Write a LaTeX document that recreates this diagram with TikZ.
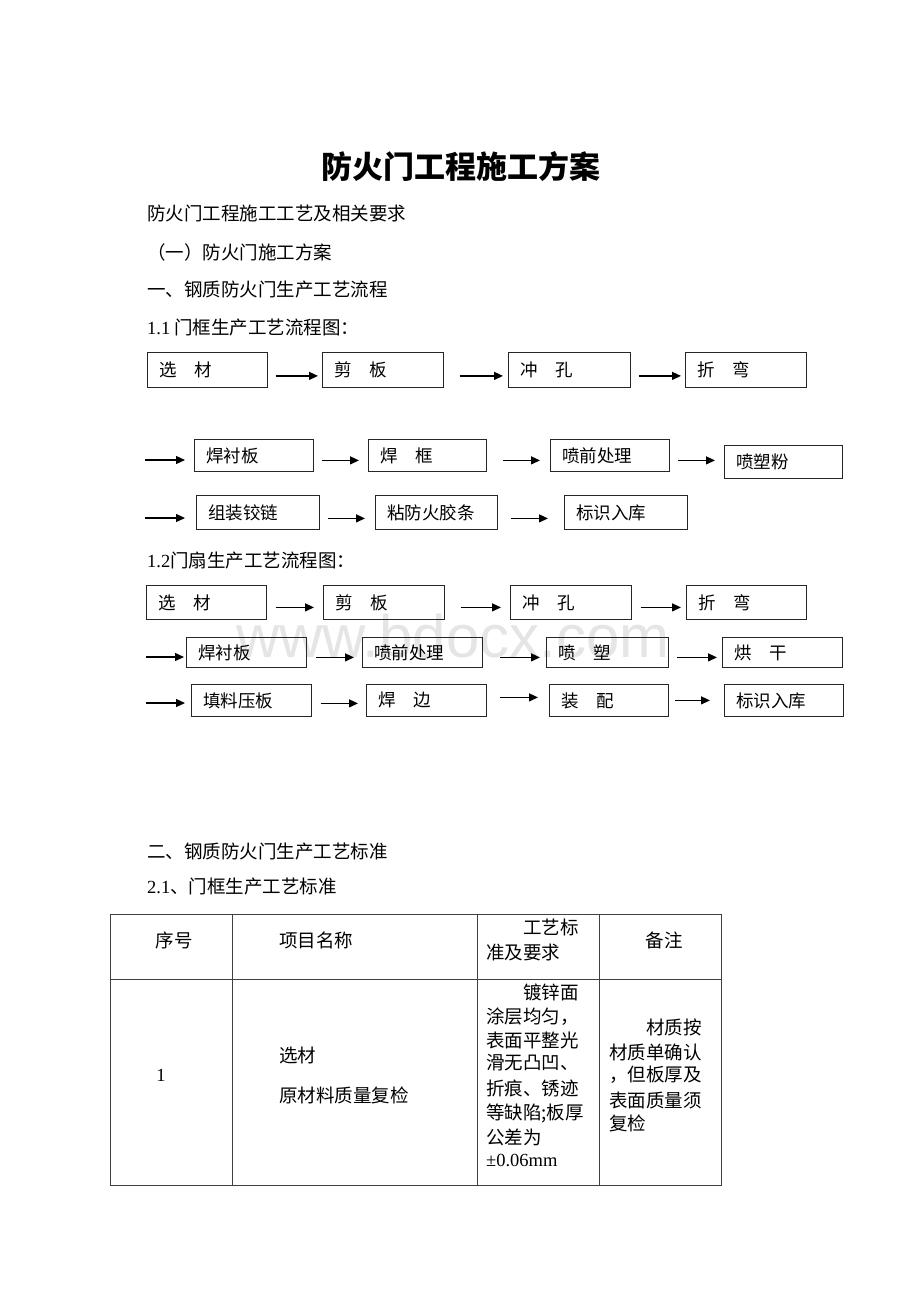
\documentclass[tikz,border=0pt]{standalone}
\usepackage{fontspec}
\setmainfont{Noto Sans CJK SC}
\newfontfamily\lat{Liberation Serif}
\newfontfamily\wm{Liberation Sans}
\usetikzlibrary{arrows.meta,calc}
\tikzset{
  box/.style={draw=black!85,line width=0.8pt,inner sep=0pt},
  boxtxt/.style={inner sep=0pt,font=\fontsize{17.5}{20}\selectfont},
  body/.style={inner sep=0pt,anchor=west,font=\fontsize{18.5}{22}\selectfont},
  cell/.style={inner sep=0pt,anchor=west,font=\fontsize{18.5}{22}\selectfont},
  arr/.style={line width=1.3pt,-{Triangle[length=9pt,width=8pt]}},
  rule/.style={draw=black!75,line width=1pt}
}
\newcommand\stepbox[6]{%
  \node[box,minimum width={#4-#2},minimum height={#5-#3},anchor=north west] (#1) at (#2,#3) {};
  \node[boxtxt,anchor=west] (#1t) at ($(#1.west)+(12,0)$) {#6};}
\newcommand\conn[5]{%
  \draw[arr] ($(#1.east)+(#3,#5)$) -- ($(#1.east -| #2.west)+(-#4,#5)$);}
\newcommand\lead[4]{%
  \coordinate (#1) at (#3);
  \draw[arr] (#1) -- ($(#1 -| #2.west)+(-#4,0)$);}
\begin{document}
\begin{tikzpicture}[x=1pt,y=-1pt]
\useasboundingbox[fill=white] (0,0) rectangle (920,1302);
% watermark
\node[text=black!10,font=\wm\fontsize{60}{60}\selectfont,anchor=base,inner sep=0pt] (wmk) at (453,657) {www.bdocx.com};
% title and headings
\node[inner sep=0pt,font=\bfseries\fontsize{31}{36}\selectfont] (title) at (461,167) {防火门工程施工方案};
\node[body] (h1) at (147,213) {防火门工程施工工艺及相关要求};
\node[body] (h2) at (147,252) {（一）防火门施工方案};
\node[body] (h3) at (147,290) {一、钢质防火门生产工艺流程};
\node[body] (h4) at (147,328) {{\lat 1.1} 门框生产工艺流程图：};
\node[body] (h5) at (147,560) {{\lat 1.2}门扇生产工艺流程图：};
\node[body] (h6) at (147,852) {二、钢质防火门生产工艺标准};
\node[body] (h7) at (147,887) {{\lat 2.1}、门框生产工艺标准};
% 1.1 flow
\stepbox{A1}{147}{352}{267}{387}{选　材}
\stepbox{A2}{322}{352}{443}{387}{剪　板}
\stepbox{A3}{508}{352}{630}{387}{冲　孔}
\stepbox{A4}{685}{352}{806}{387}{折　弯}
\conn{A1}{A2}{8}{4}{6}
\conn{A2}{A3}{16}{5}{6}
\conn{A3}{A4}{8}{4}{6}
\stepbox{B1}{194}{439}{313}{471}{焊衬板}
\stepbox{B2}{368}{439}{486}{471}{焊　框}
\stepbox{B3}{550}{439}{669}{471}{喷前处理}
\stepbox{B4}{724}{445}{842}{478}{喷塑粉}
\lead{Bs}{B1}{145,460}{9}
\conn{B1}{B2}{8}{9}{5}
\conn{B2}{B3}{16}{10}{5}
\conn{B3}{B4}{8}{9}{5}
\stepbox{C1}{196}{495}{319}{529}{组装铰链}
\stepbox{C2}{375}{495}{497}{529}{粘防火胶条}
\stepbox{C3}{564}{495}{687}{529}{标识入库}
\lead{Cs}{C1}{145,518}{11}
\conn{C1}{C2}{8}{10}{6}
\conn{C2}{C3}{13}{16}{6}
% 1.2 flow
\stepbox{D1}{146}{585}{266}{619}{选　材}
\stepbox{D2}{323}{585}{444}{619}{剪　板}
\stepbox{D3}{510}{585}{631}{619}{冲　孔}
\stepbox{D4}{686}{585}{806}{619}{折　弯}
\conn{D1}{D2}{9}{9}{5}
\conn{D2}{D3}{16}{9}{5}
\conn{D3}{D4}{9}{5}{5}
\stepbox{E1}{186}{637}{306}{667}{焊衬板}
\stepbox{E2}{362}{637}{482}{667}{喷前处理}
\stepbox{E3}{546}{637}{668}{667}{喷　塑}
\stepbox{E4}{722}{637}{842}{667}{烘　干}
\lead{Es}{E1}{146,657}{2}
\conn{E1}{E2}{9}{8}{5}
\conn{E2}{E3}{17}{6}{5}
\conn{E3}{E4}{8}{5}{5}
\stepbox{F1}{191}{684}{311}{716}{填料压板}
\stepbox{F2}{366}{684}{486}{716}{焊　边}
\stepbox{F3}{549}{684}{668}{716}{装　配}
\stepbox{F4}{724}{684}{843}{716}{标识入库}
\lead{Fs}{F1}{146,703}{6}
\conn{F1}{F2}{9}{8}{3}
\conn{F2}{F3}{13}{11}{-3}
\conn{F3}{F4}{6}{14}{0}
% table
\draw[rule] (110,914) rectangle (721,1185);
\draw[rule] (110,979) -- (721,979);
\draw[rule] (232,914) -- (232,1185);
\draw[rule] (477,914) -- (477,1185);
\draw[rule] (599,914) -- (599,1185);
\node[cell,anchor=center] (t11) at (174,940) {序号};
\node[cell] (t12) at (279,940) {项目名称};
\node[cell] (t13a) at (523,927) {工艺标};
\node[cell] (t13b) at (486,952) {准及要求};
\node[cell,anchor=center] (t14) at (664,940) {备注};
\node[cell,anchor=center] (t21) at (161,1075) {\lat 1};
\node[cell] (t22a) at (279,1055) {选材};
\node[cell] (t22b) at (279,1095) {原材料质量复检};
\node[cell] (t23a) at (523,992) {镀锌面};
\node[cell] (t23b) at (486,1017) {涂层均匀，};
\node[cell] (t23c) at (486,1040) {表面平整光};
\node[cell] (t23d) at (486,1063) {滑无凸凹、};
\node[cell] (t23e) at (486,1088) {折痕、锈迹};
\node[cell] (t23f) at (486,1113) {等缺陷;板厚};
\node[cell] (t23g) at (486,1137) {公差为};
\node[cell] (t23h) at (486,1160) {\lat ±0.06mm};
\node[cell] (t24a) at (646,1027) {材质按};
\node[cell] (t24b) at (609,1052) {材质单确认};
\node[cell] (t24c) at (609,1075) {，但板厚及};
\node[cell] (t24d) at (609,1100) {表面质量须};
\node[cell] (t24e) at (609,1123) {复检};
\end{tikzpicture}
\end{document}
